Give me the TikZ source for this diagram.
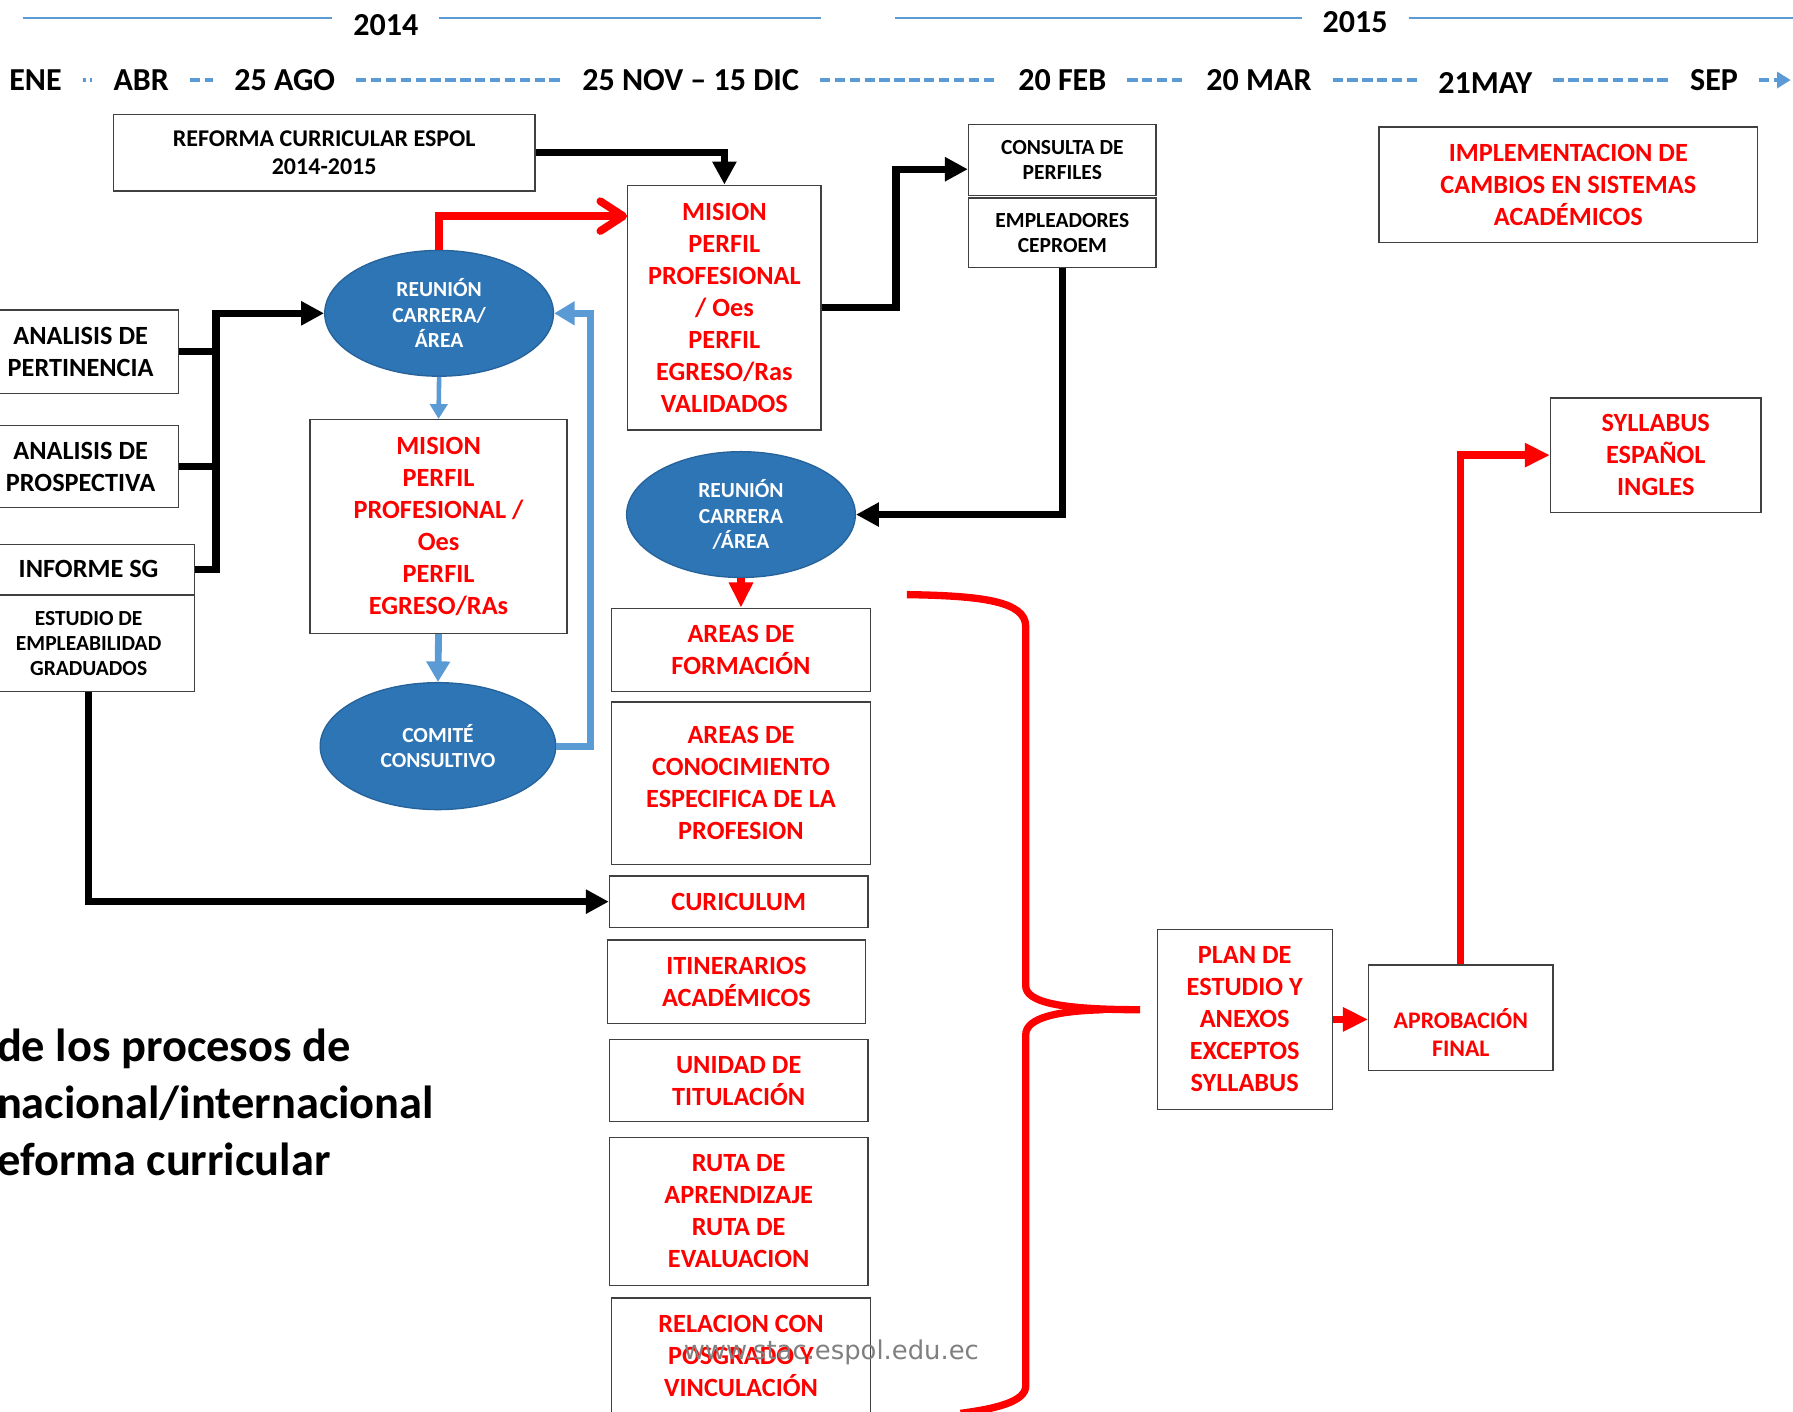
\documentclass[tikz,border=0pt]{standalone}
\usepackage{fontspec}
\setmainfont{Carlito}
\newfontfamily\wmfont{DejaVu Sans}
\usetikzlibrary{arrows.meta,calc,shapes.geometric}
\definecolor{ofblue}{HTML}{2E75B6}
\definecolor{ltblue}{HTML}{5B9BD5}
\definecolor{rd}{HTML}{FF0000}
\definecolor{bord}{HTML}{404040}
\begin{document}
\begin{tikzpicture}[x=0.5pt,y=-0.5pt,
  bx/.style={draw=bord, line width=0.6pt, fill=white, align=center, inner sep=0pt,
    font=\bfseries\fontsize{11.5}{14}\selectfont},
  sm/.style={font=\bfseries\fontsize{9.4}{11}\selectfont},
  rtxt/.style={text=rd},
  ell/.style={ellipse, fill=ofblue, draw=ofblue!85!black, line width=0.6pt, text=white,
    align=center, inner sep=0pt, font=\bfseries\fontsize{9.4}{11.2}\selectfont},
  blkl/.style={line width=3.2pt, draw=black},
  blk/.style={blkl, -{Triangle[length=10pt,width=10pt]}},
  rdarr/.style={line width=3.2pt, draw=rd, -{Triangle[length=11pt,width=10pt]}},
  rdbarb/.style={line width=3.4pt, draw=rd, -{Straight Barb[length=10pt,width=13pt,round]}},
  bluearr/.style={line width=2pt, draw=ltblue, -{Triangle[length=6.5pt,width=7.5pt]}},
  bluearr2/.style={line width=3pt, draw=ltblue, -{Triangle[length=9pt,width=10pt]}},
  tl/.style={font=\bfseries\fontsize{14}{16}\selectfont, inner xsep=9pt, inner ysep=0pt},
  tldash/.style={draw=ltblue, line width=2pt, dash pattern=on 4.5pt off 2pt},
  tlline/.style={draw=ltblue, line width=1pt}
]
\useasboundingbox (0,0) rectangle (1568,1234);
\fill[white] (0,0) rectangle (1568,1234);
\clip (0,0) rectangle (1568,1234);

% ---------- timeline ----------
\node[tl] (y14) at (337.5,22) {2014};
\node[tl] (y15) at (1185,19) {2015};
\coordinate (a1) at (20,16);
\coordinate (a2) at (718,16);
\coordinate (b1) at (783,16);
\coordinate (b2) at (1568,16);
\draw[tlline] (a1) -- (a1 -| y14.west);
\draw[tlline] (a2 -| y14.east) -- (a2);
\draw[tlline] (b1) -- (b1 -| y15.west);
\draw[tlline] (b2 -| y15.east) -- (b2);

\node[tl] (ene) at (31,70) {ENE};
\node[tl] (abr) at (123.5,70) {ABR};
\node[tl] (ago) at (249,70) {25 AGO};
\node[tl] (nov) at (604,70) {25 NOV – 15 DIC};
\node[tl] (feb) at (929,70) {20 FEB};
\node[tl] (mar) at (1101,70) {20 MAR};
\node[tl] (may) at (1299,73) {21MAY};
\node[tl] (sep) at (1499,70) {SEP};
\coordinate (tlend) at (1566,70);
\draw[tldash, dash pattern=on 1.5pt off 1.5pt] (ene) -- (abr);
\draw[tldash] (abr) -- (ago);
\draw[tldash] (ago) -- (nov);
\draw[tldash] (nov) -- (feb);
\draw[tldash] (feb) -- (mar);
\draw[tldash] (mar.east) -- (mar.east -| may.west);
\draw[tldash] (sep.west -| may.east) -- (sep.west);
\draw[tldash, -{Triangle[length=6pt,width=7pt]}] (sep) -- (tlend);

% ---------- boxes ----------
\node[bx, minimum width=184.5pt, minimum height=33.5pt, font=\bfseries\fontsize{10.5}{12.5}\selectfont]
  (reforma) at (283.5,133.5) {REFORMA CURRICULAR ESPOL\\2014-2015};
\node[bx, rtxt, minimum width=84.5pt, minimum height=107pt]
  (mision1) at (633.5,269) {MISION\\PERFIL\\PROFESIONAL\\/ Oes\\PERFIL\\EGRESO/Ras\\VALIDADOS};
\node[bx, sm, minimum width=82pt, minimum height=31pt]
  (consulta) at (929,140) {CONSULTA DE\\PERFILES};
\node[bx, sm, minimum width=82pt, minimum height=30.5pt]
  (empleadores) at (929,203.5) {EMPLEADORES\\CEPROEM};
\node[ell, minimum width=100pt, minimum height=55pt]
  (reunion2) at (648,450) {REUNIÓN\\CARRERA\\/ÁREA};
\node[bx, rtxt, minimum width=113pt, minimum height=36.5pt]
  (formacion) at (648,568.5) {AREAS DE\\FORMACIÓN};
\node[bx, rtxt, minimum width=113pt, minimum height=71pt]
  (conocimiento) at (648,685) {AREAS DE\\CONOCIMIENTO\\ESPECIFICA DE LA\\PROFESION};
\node[bx, rtxt, minimum width=113pt, minimum height=22.5pt]
  (curiculum) at (646,788.5) {CURICULUM};
\node[bx, rtxt, minimum width=113pt, minimum height=36.5pt]
  (itinerarios) at (644,858.5) {ITINERARIOS\\ACADÉMICOS};
\node[bx, rtxt, minimum width=113pt, minimum height=36pt]
  (unidad) at (646,945) {UNIDAD DE\\TITULACIÓN};
\node[bx, rtxt, minimum width=113pt, minimum height=64.5pt]
  (ruta) at (646,1059.5) {RUTA DE\\APRENDIZAJE\\RUTA DE\\EVALUACION};
\node[bx, rtxt, minimum width=113pt, minimum height=51pt]
  (relacion) at (648,1186) {RELACION CON\\POSGRADO Y\\VINCULACIÓN};
\node[text=black!50, font=\wmfont\fontsize{11.3}{13}\selectfont, inner sep=0pt]
  (wm) at (727,1183) {www.stac.espol.edu.ec};

\node[bx, rtxt, minimum width=76.5pt, minimum height=78.5pt]
  (plan) at (1088.5,891.5) {PLAN DE\\ESTUDIO Y\\ANEXOS\\EXCEPTOS\\SYLLABUS};
\node[bx, minimum width=80.5pt, minimum height=46pt]
  (aprobacion) at (1277.5,890) {};
\node[align=center, inner sep=0pt, text=rd, font=\bfseries\fontsize{10.4}{12.5}\selectfont]
  (aprobtxt) at ([yshift=-6.5pt]aprobacion.center) {APROBACIÓN\\FINAL};
\node[bx, rtxt, minimum width=92pt, minimum height=50pt]
  (syllabus) at (1448,398) {SYLLABUS\\ESPAÑOL\\INGLES};
\node[bx, rtxt, minimum width=165.5pt, minimum height=50.5pt]
  (implementacion) at (1371.5,161.5) {IMPLEMENTACION DE\\CAMBIOS EN SISTEMAS\\ACADÉMICOS};

\node[ell, minimum width=100pt, minimum height=55pt]
  (reunion1) at (384,274) {REUNIÓN\\CARRERA/\\ÁREA};
\node[bx, minimum width=85.5pt, minimum height=36.5pt]
  (pertinencia) at (70.5,307.5) {ANALISIS DE\\PERTINENCIA};
\node[bx, minimum width=85.5pt, minimum height=36pt]
  (prospectiva) at (70.5,408) {ANALISIS DE\\PROSPECTIVA};
\node[bx, minimum width=92.5pt, minimum height=22pt]
  (informe) at (77.5,498) {INFORME SG};
\node[bx, sm, minimum width=92.5pt, minimum height=42pt]
  (estudio) at (77.5,563) {ESTUDIO DE\\EMPLEABILIDAD\\GRADUADOS};
\node[bx, rtxt, minimum width=112.5pt, minimum height=93.5pt]
  (mision2) at (383.5,460.5) {MISION\\PERFIL\\PROFESIONAL /\\Oes\\PERFIL\\EGRESO/RAs};
\node[ell, minimum width=103pt, minimum height=55.5pt]
  (comite) at (383,652.5) {COMITÉ\\CONSULTIVO};

\node[anchor=west, align=left, inner sep=0pt, font=\bfseries\fontsize{20.3}{25}\selectfont]
  (note) at (-3,964) {de los procesos de\\nacional/internacional\\eforma curricular};

% ---------- connectors ----------
\coordinate (bus) at (189,274);
\draw[blkl] (pertinencia.east) -- (pertinencia.east -| bus);
\draw[blkl] (prospectiva.east) -- (prospectiva.east -| bus);
\draw[blk] (informe.east) -| (bus) -- (reunion1.west);
\draw[blk] (reforma.east) -| (mision1.north);
\draw[blk] (mision1.east) -- ++(65,0) |- ([yshift=-4pt]consulta.west);
\draw[blk] (empleadores.south) |- (reunion2.east);
\draw[blk] (estudio.south) |- (curiculum.west);
\draw[rdbarb] (reunion1.north) |- ([yshift=40pt]mision1.west);
\draw[rdarr] (reunion2.south) -- (formacion.north);
\draw[rdarr] (plan.east) -- (plan.east -| aprobacion.west);
\draw[rdarr] (aprobacion.north) |- (syllabus.west);
\draw[bluearr] (reunion1.south) -- (mision2.north);
\draw[bluearr2] (mision2.south) -- (comite.north);
\draw[bluearr2] (comite.east) -- ++(30,0) |- (reunion1.east);

% ---------- brace ----------
\draw[draw=rd, line width=3.2pt, line join=round]
  (793,520) .. controls (860,521) and (897,526) .. (897,548)
  -- (897,862) .. controls (897,876) and (925,883) .. (997,883);
\draw[draw=rd, line width=3.2pt, line join=round]
  (965,883) .. controls (925,884) and (897,890) .. (897,905)
  -- (897,1212) .. controls (897,1226) and (870,1232) .. (840,1236);
\end{tikzpicture}
\end{document}
